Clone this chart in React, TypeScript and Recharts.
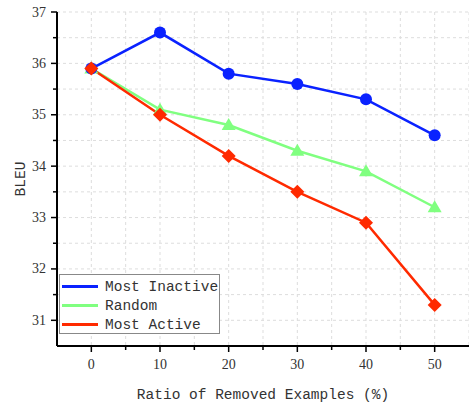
import { CartesianGrid, Label, Line, LineChart, XAxis, YAxis } from 'recharts'

const ratios = [0, 10, 20, 30, 40, 50]
const mostInactive = [35.9, 36.6, 35.8, 35.6, 35.3, 34.6]
const random = [35.9, 35.1, 34.8, 34.3, 33.9, 33.2]
const mostActive = [35.9, 35.0, 34.2, 33.5, 32.9, 31.3]

const xTicks = [0, 5, 10, 15, 20, 25, 30, 35, 40, 45, 50]
const yTicks = [31, 31.5, 32, 32.5, 33, 33.5, 34, 34.5, 35, 35.5, 36, 36.5, 37]

const BLUE = '#0a22ff'
const GREEN = '#80ff80'
const RED = '#ff2a00'
const MONO = '"Liberation Mono", monospace'
const SERIF = '"Liberation Serif", serif'

const data = ratios.map((r, i) => ({
  ratio: r,
  inactive: mostInactive[i],
  random: random[i],
  active: mostActive[i],
}))

const legendItems = [
  { label: 'Most Inactive', color: BLUE },
  { label: 'Random', color: GREEN },
  { label: 'Most Active', color: RED },
]

function XTick({ x, y, payload }: any) {
  const major = payload.value % 10 === 0
  return (
    <g>
      <line x1={x} x2={x} y1={y} y2={y + (major ? 6 : 4)} stroke="#000" strokeWidth={1.5} />
      {major && (
        <text x={x} y={y + 18} textAnchor="middle" dominantBaseline="central" fontFamily={SERIF} fontSize={14} fill="#333">
          {payload.value}
        </text>
      )}
    </g>
  )
}

function YTick({ x, y, payload }: any) {
  const major = Number.isInteger(payload.value)
  return (
    <g>
      <line x1={x} x2={x - (major ? 6 : 4)} y1={y} y2={y} stroke="#000" strokeWidth={1.5} />
      {major && (
        <text x={x - 11} y={y} textAnchor="end" dominantBaseline="central" fontFamily={SERIF} fontSize={14} fill="#333">
          {payload.value}
        </text>
      )}
    </g>
  )
}

const circleDot = ({ cx, cy, index }: any) => (
  <circle key={`c${index}`} cx={cx} cy={cy} r={6} fill={BLUE} />
)
const triangleDot = ({ cx, cy, index }: any) => (
  <polygon key={`t${index}`} points={`${cx},${cy - 7} ${cx + 7},${cy + 5} ${cx - 7},${cy + 5}`} fill={GREEN} />
)
const diamondDot = ({ cx, cy, index }: any) => (
  <polygon key={`d${index}`} points={`${cx},${cy - 7} ${cx + 7},${cy} ${cx},${cy + 7} ${cx - 7},${cy}`} fill={RED} />
)

export default function App() {
  return (
    <div style={{ position: 'absolute', left: 0, top: 0, width: 469, height: 406, background: '#fff' }}>
      <LineChart width={469} height={406} data={data} margin={{ top: 12, right: 0, left: 7, bottom: 0 }}>
        <CartesianGrid stroke="#ddd" strokeDasharray="3 3" />
        <XAxis
          dataKey="ratio"
          type="number"
          domain={[-5, 55]}
          ticks={xTicks}
          height={60}
          tickSize={0}
          tickMargin={0}
          tickLine={false}
          tick={<XTick />}
          axisLine={{ stroke: '#000', strokeWidth: 2 }}
          interval={0}
        >
          <Label value="Ratio of Removed Examples (%)" position="insideBottom" offset={7} fontFamily={MONO} fontSize={14.5} fill="#333" />
        </XAxis>
        <YAxis
          type="number"
          domain={[30.5, 37]}
          ticks={yTicks}
          width={50}
          tickSize={0}
          tickMargin={0}
          tickLine={false}
          tick={<YTick />}
          axisLine={{ stroke: '#000', strokeWidth: 2 }}
          interval={0}
        >
          <Label value="BLEU" angle={-90} position="insideLeft" offset={13} fontFamily={MONO} fontSize={14.5} fill="#333" style={{ textAnchor: 'middle' }} />
        </YAxis>
        <Line dataKey="random" stroke={GREEN} strokeWidth={2.5} dot={triangleDot} isAnimationActive={false} />
        <Line dataKey="inactive" stroke={BLUE} strokeWidth={2.5} dot={circleDot} isAnimationActive={false} />
        <Line dataKey="active" stroke={RED} strokeWidth={2.5} dot={diamondDot} isAnimationActive={false} />
      </LineChart>
      <div
        style={{
          position: 'absolute',
          left: 59,
          top: 274,
          width: 161,
          height: 60,
          boxSizing: 'border-box',
          border: '1px solid #888',
          background: '#fff',
          padding: '2px 0 0 2px',
        }}
      >
        {legendItems.map((it) => (
          <div key={it.label} style={{ display: 'flex', alignItems: 'center', height: 19 }}>
            <div style={{ width: 36, height: 2.5, background: it.color, marginRight: 7 }} />
            <span style={{ fontFamily: MONO, fontSize: 14.5, color: '#333', whiteSpace: 'nowrap' }}>{it.label}</span>
          </div>
        ))}
      </div>
    </div>
  )
}
